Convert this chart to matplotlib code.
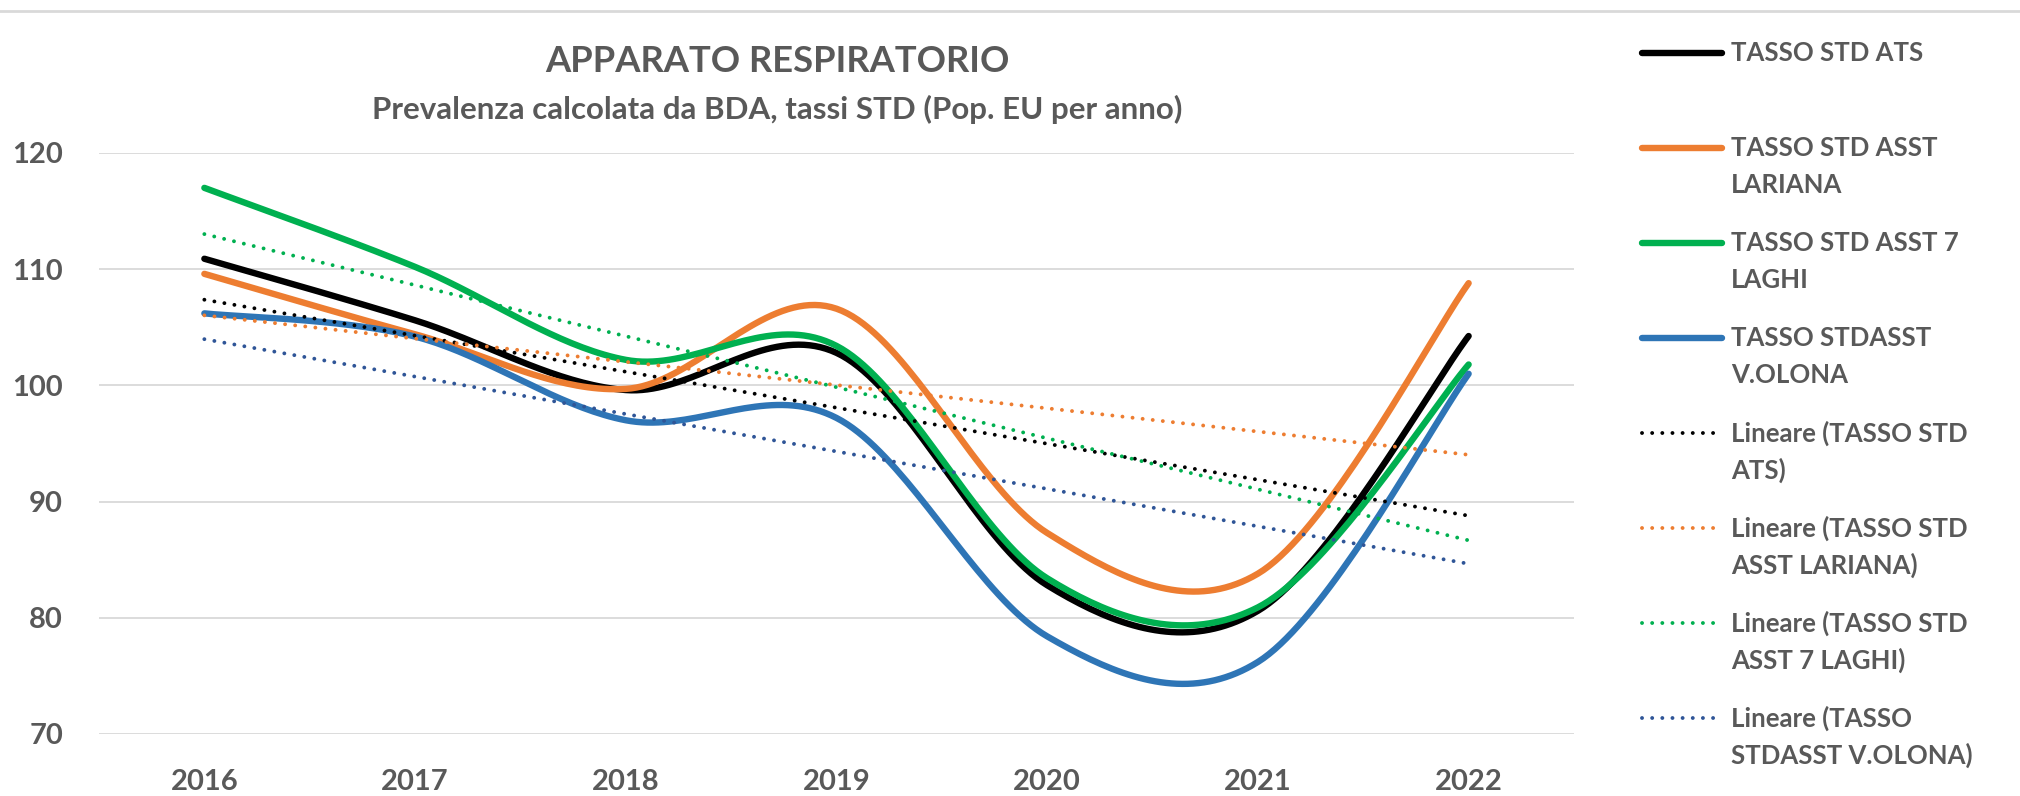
"""Apparato respiratorio: prevalenza da BDA, tassi STD con linee di tendenza lineari"""
import matplotlib
matplotlib.use("Agg")
import matplotlib.pyplot as plt
import numpy as np
from matplotlib.lines import Line2D

plt.rcParams['font.family'] = ['Lato', 'DejaVu Sans']
plt.rcParams['font.weight'] = 'bold'

years = ["2016", "2017", "2018", "2019", "2020", "2021", "2022"]
ats = [110.9, 105.6, 99.6, 102.8, 82.8, 80.6, 104.25]
lariana = [109.6, 104.4, 99.7, 106.6, 87.3, 83.8, 108.8]
sette_laghi = [117.0, 110.2, 102.2, 103.4, 83.4, 80.9, 101.8]
olona = [106.2, 104.2, 97.0, 97.2, 78.4, 76.2, 101.0]

series_names = ["TASSO STD ATS", "TASSO STD ASST\nLARIANA", "TASSO STD ASST 7\nLAGHI",
                "TASSO STDASST\nV.OLONA"]
trend_names = ["Lineare (TASSO STD\nATS)", "Lineare (TASSO STD\nASST LARIANA)",
               "Lineare (TASSO STD\nASST 7 LAGHI)", "Lineare (TASSO\nSTDASST V.OLONA)"]
line_colors = ["#000000", "#ED7D31", "#00B050", "#2E75B6"]
trend_colors = ["#000000", "#ED7D31", "#00B050", "#2F5597"]

TEXT = "#595959"
GRID = "#D9D9D9"
DOTS = (0, (0.01, 2.6))


def smooth(xs, ys, n=40):
    """Excel-like smoothed line (Catmull-Rom as cubic Bezier)"""
    p = np.column_stack([xs, ys]).astype(float)
    ext = np.vstack([p[0], p, p[-1]])
    t = np.linspace(0, 1, n)[:, None]
    out = []
    for i in range(len(p) - 1):
        p0, p1, p2, p3 = ext[i], ext[i + 1], ext[i + 2], ext[i + 3]
        b1 = p1 + (p2 - p0) / 6
        b2 = p2 - (p3 - p1) / 6
        seg = ((1 - t) ** 3) * p1 + 3 * ((1 - t) ** 2) * t * b1 + 3 * (1 - t) * t ** 2 * b2 + t ** 3 * p2
        out.append(seg if i == 0 else seg[1:])
    out = np.vstack(out)
    return out[:, 0], out[:, 1]


fig = plt.figure(figsize=(20.2, 7.96), dpi=100)
ax = fig.add_axes([99 / 2020, 62 / 796, 1475 / 2020, 581 / 796])

x = np.arange(len(years))
all_series = [ats, lariana, sette_laghi, olona]
for vals, col in zip(all_series, line_colors):
    sx, sy = smooth(x, vals)
    ax.plot(sx, sy, color=col, lw=4.6, solid_capstyle='round', zorder=3)
for vals, col in zip(all_series, trend_colors):
    k, q = np.polyfit(x, vals, 1)
    ax.plot(x, k * x + q, color=col, lw=2.8, linestyle=DOTS, dash_capstyle='round', zorder=4)

ax.set_xlim(-0.5, len(years) - 0.5)
ax.set_ylim(70, 120)
ax.set_yticks(np.arange(70, 121, 10))
ax.set_xticks(x)
ax.set_xticklabels(years)
ax.grid(axis='y', color=GRID, lw=1.3, zorder=0)
ax.set_axisbelow(True)
for s in ax.spines.values():
    s.set_visible(False)
ax.tick_params(length=0, labelsize=21, colors=TEXT, pad=0)
ax.tick_params(axis='y', pad=26)
ax.tick_params(axis='x', pad=25)
for lab in ax.get_xticklabels() + ax.get_yticklabels():
    lab.set_fontweight('bold')

# titolo
fig.text(777 / 2020, 1 - 62 / 796, "APPARATO RESPIRATORIO", ha='center', va='center',
         fontsize=26.2, color=TEXT, fontweight='bold')
fig.text(777 / 2020, 1 - 109 / 796, "Prevalenza calcolata da BDA, tassi STD (Pop. EU per anno)",
         ha='center', va='center', fontsize=22.5, color=TEXT, fontweight='bold')

# bordo superiore
fig.add_artist(Line2D([0, 1], [1 - 11 / 796, 1 - 11 / 796], color=GRID, lw=2))

# legenda
y0, step, lsp = 53, 95, 37
labels = series_names + trend_names
for i, lab in enumerate(labels):
    yy = y0 + i * step
    if i < 4:
        h = Line2D([1642 / 2020, 1722 / 2020], [1 - yy / 796] * 2, color=line_colors[i],
                   lw=4.6, solid_capstyle='round')
    else:
        h = Line2D([1642 / 2020, 1720 / 2020], [1 - yy / 796] * 2, color=trend_colors[i - 4],
                   lw=2.8, linestyle=DOTS, dash_capstyle='round')
    fig.add_artist(h)
    for j, part in enumerate(lab.split("\n")):
        fig.text(1731 / 2020, 1 - (yy + j * lsp) / 796, part, ha='left', va='center',
                 fontsize=18.5, color=TEXT, fontweight='bold')

fig.savefig("out.png", dpi=100)
